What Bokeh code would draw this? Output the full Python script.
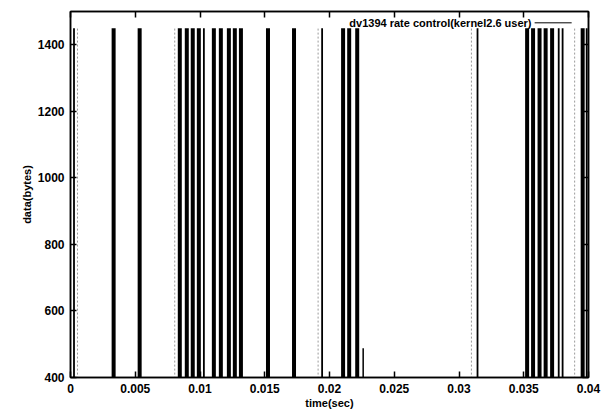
from bokeh.plotting import figure
from bokeh.models import Range1d, LinearAxis, FixedTicker, Label
from bokeh.embed import file_html
from bokeh.resources import INLINE

# ---- data ----
burst_times = [0.00333, 0.00534, 0.00844, 0.00898, 0.00944, 0.00991,
               0.01107, 0.01161, 0.01223, 0.01269, 0.01316, 0.01525,
               0.01726, 0.02105, 0.02152, 0.02214, 0.03526, 0.03572,
               0.03622, 0.03669, 0.03719, 0.03955]
burst_sizes = [1450] * len(burst_times)

single_times = [0.00027, 0.01030, 0.01943, 0.03143, 0.03770, 0.03800, 0.03986]
single_sizes = [1450] * len(single_times)

faint_times = [0.00054, 0.00805, 0.01912, 0.03096, 0.03893]
faint_sizes = [1450] * len(faint_times)

short_times = [0.0226]
short_sizes = [488]

x_ticks = [0, 0.005, 0.01, 0.015, 0.02, 0.025, 0.03, 0.035, 0.04]
x_tick_labels = ["0", "0.005", "0.01", "0.015", "0.02", "0.025", "0.03", "0.035", "0.04"]
y_ticks = [400, 600, 800, 1000, 1200, 1400]

series_name = "dv1394 rate control(kernel2.6 user)"

FONT = "Liberation Sans"

p = figure(width=602, height=411, output_backend="svg", toolbar_location=None,
           x_range=Range1d(0, 0.04), y_range=Range1d(400, 1500),
           min_border_left=70, min_border_right=14, min_border_top=11, min_border_bottom=33)
p.background_fill_color = "white"
p.border_fill_color = "white"
p.grid.visible = False
p.outline_line_color = "black"
p.outline_line_width = 1.5

def style_axis(ax):
    ax.major_tick_in = 6
    ax.major_tick_out = 0
    ax.minor_tick_line_color = None
    ax.axis_line_color = "black"
    ax.axis_line_width = 1.5
    ax.major_tick_line_width = 1.5
    ax.major_label_text_font = FONT
    ax.major_label_text_font_style = "bold"
    ax.major_label_text_font_size = "12px"
    ax.major_label_text_color = "black"
    ax.axis_label_text_font = FONT
    ax.axis_label_text_font_style = "bold"
    ax.axis_label_text_font_size = "11px"
    ax.axis_label_text_color = "black"

p.xaxis.ticker = FixedTicker(ticks=x_ticks)
p.xaxis.major_label_overrides = {t: s for t, s in zip(x_ticks, x_tick_labels)}
p.yaxis.ticker = FixedTicker(ticks=y_ticks)
style_axis(p.xaxis[0])
style_axis(p.yaxis[0])
p.xaxis.major_label_standoff = 6
p.yaxis.major_label_standoff = 6
p.xaxis.axis_label = "time(sec)"
p.yaxis.axis_label = "data(bytes)"
p.xaxis.axis_label_standoff = 1
p.yaxis.axis_label_standoff = 2

# mirrored tick marks (no labels)
top_ax = LinearAxis(ticker=FixedTicker(ticks=x_ticks),
                    major_label_overrides={t: "" for t in x_ticks})
right_ax = LinearAxis(ticker=FixedTicker(ticks=y_ticks),
                      major_label_overrides={t: "" for t in y_ticks})
for ax in (top_ax, right_ax):
    style_axis(ax)
    ax.major_label_standoff = 0
p.add_layout(top_ax, "above")
p.add_layout(right_ax, "right")

# impulses
p.segment(x0=burst_times, y0=[0] * len(burst_times), x1=burst_times, y1=burst_sizes,
          line_color="black", line_width=4, line_cap="butt")
p.segment(x0=single_times, y0=[0] * len(single_times), x1=single_times, y1=single_sizes,
          line_color="black", line_width=1.8, line_cap="butt")
p.segment(x0=faint_times, y0=[0] * len(faint_times), x1=faint_times, y1=faint_sizes,
          line_color="#9a9a9a", line_width=1, line_dash="2 2", line_cap="butt")
p.segment(x0=short_times, y0=[0] * len(short_times), x1=short_times, y1=short_sizes,
          line_color="black", line_width=1.5, line_cap="butt")

# key (gnuplot style: text then line sample)
p.add_layout(Label(x=0.0356, y=1466, text=series_name, text_align="right",
                   text_baseline="middle", text_font=FONT, text_font_style="bold",
                   text_font_size="11px", text_color="black"))
p.line(x=[0.03584, 0.0387], y=[1466, 1466], line_color="black", line_width=1)

open("out.html", "w").write(file_html(p, INLINE))
